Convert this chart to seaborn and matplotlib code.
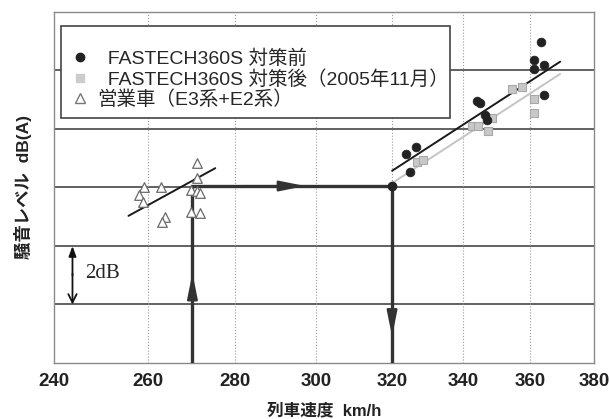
import matplotlib
matplotlib.use('Agg')
import matplotlib.pyplot as plt
import seaborn as sns
from matplotlib.lines import Line2D
from matplotlib.patches import Rectangle

# speeds (km/h) and relative noise level (dB, grid step = 2 dB)
before_speed = [326.6, 323.8, 324.8, 363.3, 361.1, 364.2, 361.1, 364.2, 344.1, 344.9, 346.4, 346.9]
before_level = [7.38, 7.14, 6.54, 10.96, 10.35, 10.18, 10.04, 9.15, 8.97, 8.88, 8.48, 8.31]

after_speed = [326.8, 328.5, 342.5, 344.4, 347.3, 348.5, 354.3, 357.5, 361.1, 361.1]
after_level = [6.87, 6.93, 8.11, 8.11, 7.94, 8.37, 9.37, 9.45, 9.03, 8.56]

service_speed = [271.0, 271.0, 259.0, 262.8, 257.9, 258.8, 269.6, 271.1, 271.7, 269.6, 271.7, 263.8, 263.0]
service_level = [6.83, 6.31, 6.03, 6.01, 5.74, 5.51, 5.91, 5.89, 5.82, 5.17, 5.14, 5.00, 4.83]

# fitted trend lines (end points)
fit_before_x = [320.0, 369.2]
fit_before_y = [6.57, 10.30]
fit_after_x = [320.0, 369.2]
fit_after_y = [6.15, 9.88]
fit_service_x = [255.7, 275.3]
fit_service_y = [5.03, 6.66]

# reference path 270 km/h -> same level -> 320 km/h
path_x = [270, 270, 320, 320]
path_y = [0, 6.05, 6.05, 0]

xticks = [240, 260, 280, 300, 320, 340, 360, 380]
labels = ['  FASTECH360S 対策前', '  FASTECH360S 対策後（2005年11月）', '営業車（E3系+E2系）']

sns.set_style('white')
plt.rcParams['font.family'] = ['Liberation Sans', 'Noto Sans CJK JP']

fig = plt.figure(figsize=(6.09, 4.19), dpi=100)
ax = fig.add_axes([0.0887, 0.1337, 0.8867, 0.8377])

ax.set_xscale('log')
ax.set_xlim(240, 380)
ax.set_ylim(0, 12)

# grid
for v in [2, 4, 6, 8, 10]:
    ax.axhline(v, color='#555555', lw=1.3, zorder=1)
for v in xticks[1:-1]:
    ax.axvline(v, color='#9a9a9a', lw=0.8, ls=':', zorder=1)

# trend lines
sns.lineplot(x=fit_after_x, y=fit_after_y, color='#c4c4c4', lw=1.4, ax=ax, zorder=2)
sns.lineplot(x=fit_before_x, y=fit_before_y, color='#1a1a1a', lw=1.4, ax=ax, zorder=2)
sns.lineplot(x=fit_service_x, y=fit_service_y, color='#1a1a1a', lw=1.4, ax=ax, zorder=2)

# reference path with arrows
ax.plot(path_x, path_y, color='#333333', lw=2.4, solid_joinstyle='miter', zorder=4)
ax.plot([path_x[2]], [path_y[2]], 'o', color='#222222', ms=6, zorder=5)
head = dict(arrowstyle='-|>,head_length=1.6,head_width=0.32', color='#333333', lw=1.5,
            shrinkA=0, shrinkB=0)
ax.annotate('', xy=(270, 3.08), xytext=(270, 1.5), arrowprops=head, zorder=5)
ax.annotate('', xy=(297.2, 6.05), xytext=(282, 6.05), arrowprops=head, zorder=5)
ax.annotate('', xy=(320, 0.9), xytext=(320, 2.5), arrowprops=head, zorder=5)

# data points
sns.scatterplot(x=after_speed, y=after_level, marker='s', s=36, color='#c8c8c8',
                edgecolor='#a8a8a8', linewidth=0.8, ax=ax, zorder=6)
sns.scatterplot(x=before_speed, y=before_level, marker='o', s=40, color='#222222',
                edgecolor='#222222', linewidth=0.5, ax=ax, zorder=7)
sns.scatterplot(x=service_speed, y=service_level, marker='^', s=48, color='white',
                edgecolor='#6a6a6a', linewidth=0.9, ax=ax, zorder=6)

# 2 dB scale arrow
ax.annotate('', xy=(243.8, 4.0), xytext=(243.8, 3.0),
            arrowprops=dict(arrowstyle='-|>,head_length=0.6,head_width=0.22', color='#111111', lw=1.3,
                            shrinkA=0, shrinkB=0))
ax.annotate('', xy=(243.8, 2.0), xytext=(243.8, 3.05),
            arrowprops=dict(arrowstyle='->,head_length=0.6,head_width=0.3', color='#111111', lw=1.3,
                            shrinkA=0, shrinkB=0))
ax.text(246.4, 3.05, '2dB', family='Liberation Serif', fontsize=15, va='center', ha='left')

ax.set_xticks(xticks)
ax.set_xticklabels([str(t) for t in xticks])
ax.xaxis.set_minor_locator(matplotlib.ticker.NullLocator())
ax.set_yticks([])
ax.tick_params(axis='x', length=0, pad=7, labelsize=13.5)
for lab in ax.get_xticklabels():
    lab.set_fontweight('bold')
    lab.set_color('#222222')

for sp in ax.spines.values():
    sp.set_color('#8a8a8a')
    sp.set_linewidth(1.0)

ax.set_xlabel('列車速度  km/h', fontsize=12, fontweight='bold', color='#222222')
ax.xaxis.set_label_coords(0.5, -0.114)
ax.set_ylabel('騒音レベル  dB(A)', fontsize=12.5, fontweight='bold', color='#222222')
ax.yaxis.set_label_coords(-0.041, 0.5)

# legend box drawn separately, entries placed inside it
box = Rectangle((0.013, 0.698), 0.72, 0.262, transform=ax.transAxes, facecolor='white',
                edgecolor='#444444', lw=1.2, zorder=9)
ax.add_patch(box)
handles = [
    Line2D([], [], ls='', marker='o', ms=6, color='#222222'),
    Line2D([], [], ls='', marker='s', ms=6, color='#cccccc'),
    Line2D([], [], ls='', marker='^', ms=7, mfc='white', mec='#777777'),
]
leg = ax.legend(handles, labels, loc='upper left', bbox_to_anchor=(0.0398, 0.893),
                fontsize=14, frameon=False, borderpad=0, labelspacing=0.1,
                handletextpad=0.64, handlelength=0.46, borderaxespad=0)
leg.set_zorder(10)

fig.savefig('out.png', dpi=100)
